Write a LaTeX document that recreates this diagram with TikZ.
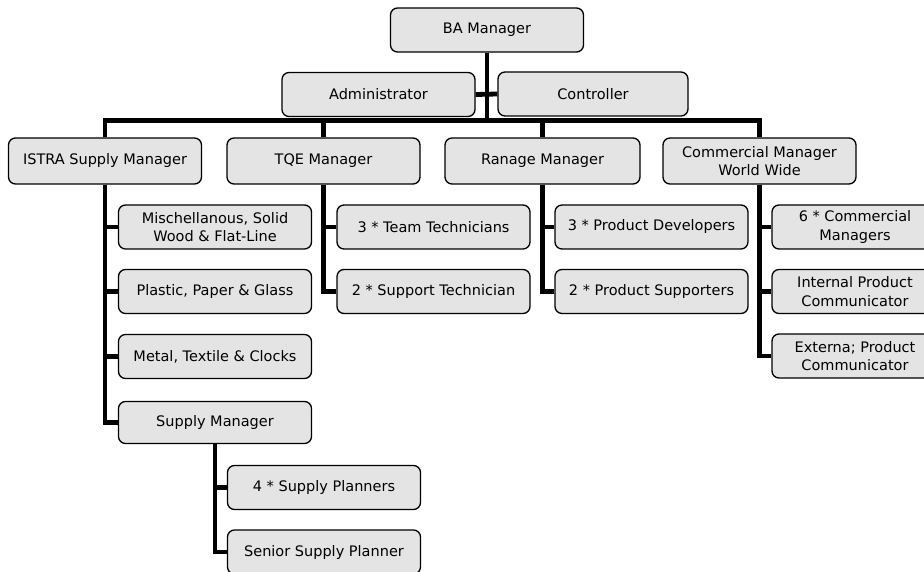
\documentclass[tikz,border=0pt]{standalone}
\usepackage{fontspec}
\setmainfont{DejaVu Sans}
\begin{document}
\begin{tikzpicture}[x=1pt,y=-1pt,
  box/.style={draw=black, line width=1.3pt, rounded corners=7pt,
    fill={rgb,255:red,228;green,228;blue,228}, align=center,
    inner sep=0pt, minimum height=44pt, minimum width=193pt,
    font=\fontsize{14.5}{18.5}\selectfont},
  conn/.style={line width=4.8pt, line join=miter}]
\clip (0,0) rectangle (924,572);
\fill[white] (0,0) rectangle (924,572);

% top of the chart
\node[box] (ba)  at (487,30)    {BA Manager};
\node[box] (adm) at (378.5,94.5) {Administrator};
\node[box, minimum width=190pt] (ctl) at (593,94) {Controller};

% department heads
\node[box, minimum height=46pt] (istra) at (105,161)   {ISTRA Supply Manager};
\node[box, minimum height=46pt] (tqe)   at (323.5,161) {TQE Manager};
\node[box, minimum height=46pt, minimum width=195pt] (ran) at (542.5,161) {Ranage Manager};
\node[box, minimum height=46pt] (com)   at (759.5,161) {Commercial Manager\\World Wide};

% ISTRA branch
\node[box] (misc)  at (215,227)   {Mischellanous, Solid\\Wood \& Flat-Line};
\node[box] (plas)  at (215,291.5) {Plastic, Paper \& Glass};
\node[box] (metal) at (215,356.5) {Metal, Textile \& Clocks};
\node[box, minimum height=42pt] (supm) at (215,422.5) {Supply Manager};
\node[box] (sp4) at (324,487.5) {4 * Supply Planners};
\node[box] (sen) at (324,552)   {Senior Supply Planner};

% TQE branch
\node[box] (team) at (433.5,227)   {3 * Team Technicians};
\node[box] (supt) at (433.5,291.5) {2 * Support Technician};

% Range branch
\node[box] (pdev) at (651.5,227)   {3 * Product Developers};
\node[box] (psup) at (651.5,291.5) {2 * Product Supporters};

% Commercial branch
\node[box, minimum width=166pt] (cm6) at (855,227)   {6 * Commercial\\Managers};
\node[box, minimum width=166pt] (int) at (855,291.5) {Internal Product\\Communicator};
\node[box, minimum width=166pt] (ext) at (855,356)   {Externa; Product\\Communicator};

% connectors
\coordinate (bus) at (487,120.5);
\draw[conn] (ba.south) -- (bus);
\draw[conn] (adm.east) -- (ctl.west);
\draw[conn] (istra.north) |- (bus) -| (com.north);
\draw[conn] (tqe.north) -- (tqe.north |- bus);
\draw[conn] (ran.north) -- (ran.north |- bus);

\draw[conn] (istra.south) |- (misc.west);
\draw[conn] (istra.south) |- (plas.west);
\draw[conn] (istra.south) |- (metal.west);
\draw[conn] (istra.south) |- (supm.west);

\draw[conn] (supm.south) |- (sp4.west);
\draw[conn] (supm.south) |- (sen.west);

\draw[conn] (tqe.south) |- (team.west);
\draw[conn] (tqe.south) |- (supt.west);

\draw[conn] (ran.south) |- (pdev.west);
\draw[conn] (ran.south) |- (psup.west);

\draw[conn] (com.south) |- (cm6.west);
\draw[conn] (com.south) |- (int.west);
\draw[conn] (com.south) |- (ext.west);
\end{tikzpicture}
\end{document}
